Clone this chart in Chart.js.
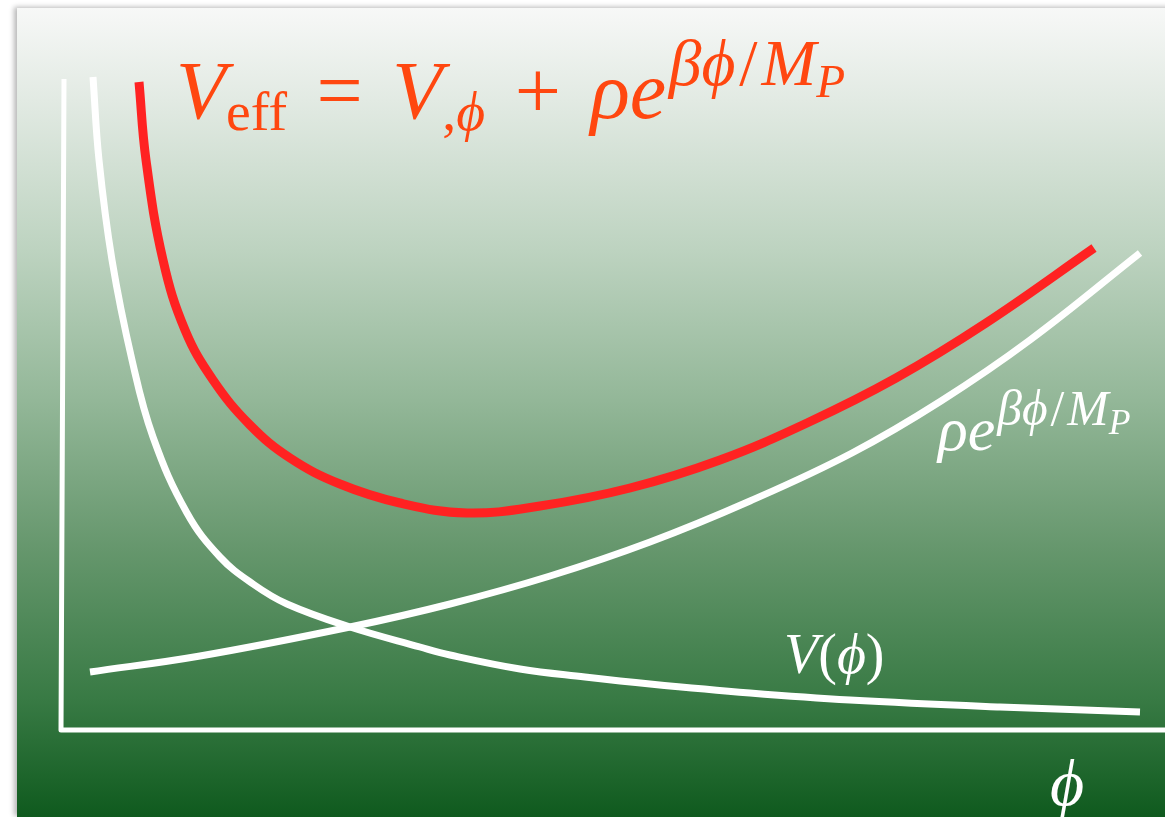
<!DOCTYPE html>
<html>
<head>
<meta charset="utf-8">
<script src="https://cdn.jsdelivr.net/npm/chart.js@4.4.1/dist/chart.umd.min.js"></script>
<style>
  body { margin: 0; background: #fff; }
  #wrap { position: relative; width: 1165px; height: 817px; overflow: hidden; }
  #panel {
    position: absolute; left: 17px; top: 8px; width: 1160px; height: 809px;
    background: linear-gradient(to bottom, #f7f8f7 0%, #e2eae3 11.4%, #bdd3c0 29.9%,
      #93b798 48.5%, #66976d 66.7%, #387a44 85.5%, #0f5a1e 100%);
    box-shadow: -3px -1px 5px rgba(0, 0, 0, 0.28);
  }
  #potChart { position: absolute; left: 0; top: 0; }
  .math {
    position: absolute; white-space: nowrap; line-height: 1;
    font-family: "Liberation Serif", "DejaVu Serif", serif;
  }
  .math i { font-style: italic; }
  .sub { font-size: 0.68em; position: relative; top: 0.22em; }
  .sup { font-size: 0.8em; position: relative; top: -0.5em; margin-left: 0.04em; }
  .sub2 { font-size: 0.72em; position: relative; top: 0.25em; }
  .op { margin: 0 0.36em; font-style: normal; }
  .sl { margin: 0 0.06em; }
</style>
</head>
<body>
<div id="wrap">
  <div id="panel"></div>
  <canvas id="potChart" width="1165" height="817"></canvas>
  <div class="math" id="title" style="left:176px; top:50px; font-size:82px; color:#ff4710;">
    <i>V</i><span class="sub">eff</span><span class="op">=</span><i>V</i><span class="sub">,<i>ϕ</i></span><span class="op">+</span><i>ρe</i><span class="sup"><i>βϕ</i><span class="sl">/</span><i>M</i><span class="sub2"><i>P</i></span></span>
  </div>
  <div class="math" id="labExp" style="left:938px; top:398px; font-size:62px; color:#fff;">
    <i>ρe</i><span class="sup"><i>βϕ</i><span class="sl">/</span><i>M</i><span class="sub2"><i>P</i></span></span>
  </div>
  <div class="math" id="labV" style="left:784px; top:626px; font-size:56px; color:#fff;">
    <i>V</i>(<i>ϕ</i>)
  </div>
  <div class="math" id="labPhi" style="left:1050px; top:750px; font-size:66px; color:#fff;">
    <i>ϕ</i>
  </div>
</div>
<script>
// field values phi and the three potentials, origin at the axis corner
const phiV = [0.31, 0.37, 0.50, 0.70, 0.91, 1.25, 1.58, 1.91, 2.25, 2.88, 3.58, 3.88, 4.58, 5.23, 5.88, 6.88, 7.88, 9.38, 10.78];
const potV = [6.54, 5.71, 4.71, 3.71, 2.94, 2.18, 1.74, 1.47, 1.27, 1.04, 0.84, 0.76, 0.62, 0.54, 0.47, 0.38, 0.31, 0.24, 0.19];

const phiExp = [0.28, 1.38, 2.88, 3.88, 4.88, 5.88, 6.88, 7.90, 8.79, 9.68, 10.78];
const potExp = [0.59, 0.75, 1.04, 1.27, 1.55, 1.89, 2.30, 2.78, 3.30, 3.91, 4.78];

const phiEff = [0.77, 0.84, 1.01, 1.23, 1.51, 1.88, 2.28, 2.78, 3.38, 4.05, 4.78, 5.68, 6.58, 7.45, 8.34, 9.24, 10.32];
const potEff = [6.49, 5.71, 4.71, 4.01, 3.51, 3.06, 2.73, 2.47, 2.28, 2.18, 2.25, 2.43, 2.71, 3.08, 3.53, 4.08, 4.83];

// hand drawn axes (L shape)
const axisX = [0.02, -0.01, 11.03];
const axisY = [6.52, 0.01, 0.01];

const toPts = (xs, ys) => xs.map((x, i) => ({ x: x, y: ys[i] }));

const ctx = document.getElementById("potChart").getContext("2d");
const potChart = new Chart(ctx, {
  type: "line",
  data: {
    datasets: [
      {
        label: "axes",
        data: toPts(axisX, axisY),
        borderColor: "#ffffff",
        borderWidth: 5,
        borderJoinStyle: "round",
        tension: 0,
        clip: false,
      },
      {
        label: "V(phi)",
        data: toPts(phiV, potV),
        borderColor: "#ffffff",
        borderWidth: 7,
        tension: 0.4,
        clip: false,
      },
      {
        label: "rho e^(beta phi/M_P)",
        data: toPts(phiExp, potExp),
        borderColor: "#ffffff",
        borderWidth: 7,
        tension: 0.4,
        clip: false,
      },
      {
        label: "V_eff",
        data: toPts(phiEff, potEff),
        borderColor: "#ff2222",
        borderWidth: 9,
        tension: 0.4,
        clip: false,
      },
    ],
  },
  options: {
    responsive: false,
    animation: false,
    layout: { padding: 0 },
    elements: { point: { radius: 0 } },
    plugins: { legend: { display: false }, tooltip: { enabled: false } },
    scales: {
      x: { type: "linear", min: -0.62, max: 11.03, display: false },
      y: { type: "linear", min: -0.86, max: 7.31, display: false },
    },
  },
});
</script>
</body>
</html>
